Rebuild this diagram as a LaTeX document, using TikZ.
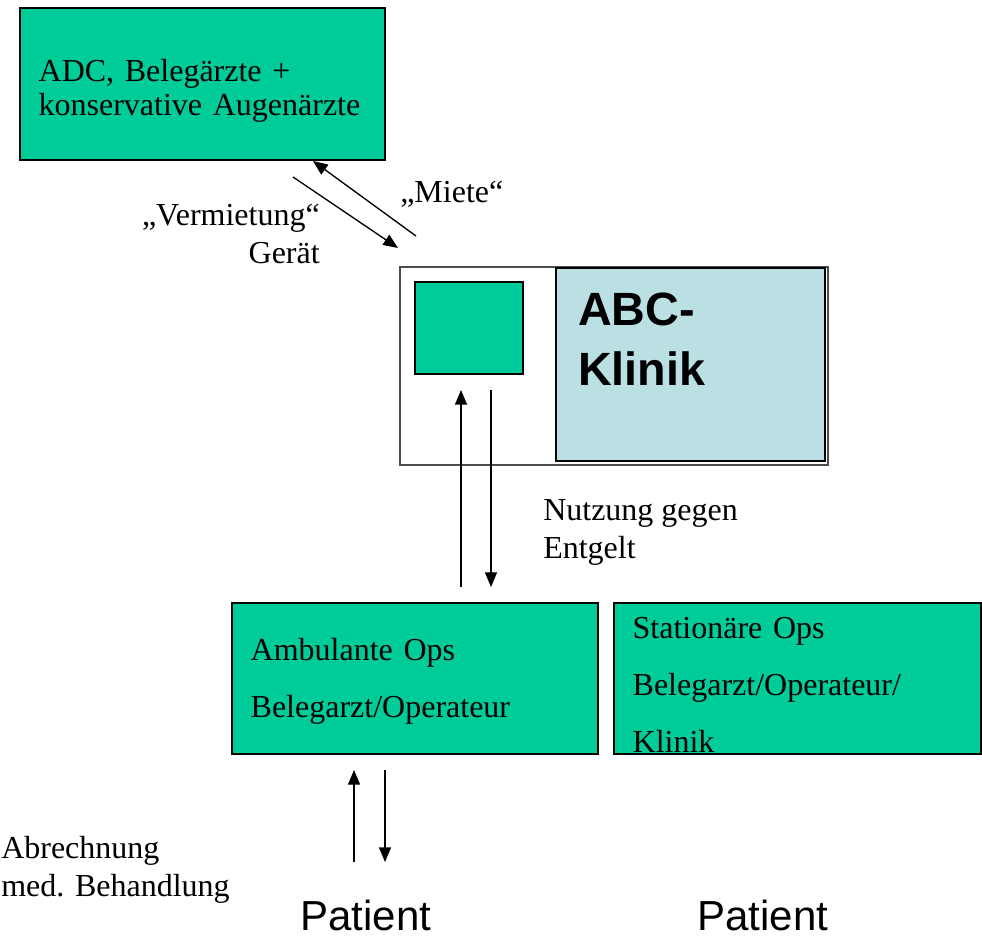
\documentclass[tikz,border=0pt]{standalone}
\usepackage{fontspec}
\setmainfont{Liberation Serif}
\setsansfont{Liberation Sans}
\usepackage{xcolor}
\usepackage{tikz}
\usetikzlibrary{arrows.meta, positioning}
\definecolor{boxgreen}{RGB}{0,204,153}
\definecolor{klinikblue}{RGB}{187,224,227}

\begin{document}
\begin{tikzpicture}[
  x=0.75pt, y=-0.75pt,
  greenbox/.style={draw=black, fill=boxgreen, line width=0.9pt, rectangle, align=left, inner xsep=14pt, inner ysep=0pt},
  lbl/.style={inner sep=0pt, font=\fontsize{24}{28.5}\selectfont},
  arr/.style={-{Triangle[length=11pt, width=9pt]}, line width=1pt}
]
\useasboundingbox (0,0) rectangle (982,937);

% Geraetegeber oben
\node[greenbox, minimum width=273.75pt, minimum height=114pt, text width=245.75pt,
  font=\fontsize{24}{26}\selectfont] (adc) at (202.5,84) {\rule{0pt}{27pt}ADC, Belegärzte +\\konservative Augenärzte};

% Klinik mit Geraet
\node[draw=gray!60!black, fill=white, line width=0.8pt, minimum width=321pt, minimum height=148.5pt] (klinik) at (614,366) {};
\node[draw, fill=boxgreen, line width=0.8pt, minimum width=81pt, minimum height=69pt] (geraet) at (469,328) {};
\node[draw, fill=klinikblue, line width=1.5pt, minimum width=201.75pt, minimum height=144.75pt] (abc) at (690.5,364.5) {};
\node[anchor=north west, inner sep=0pt, align=left, font=\sffamily\bfseries\fontsize{35}{45}\selectfont] (abclbl) at (578,293) {ABC-\\Klinik};

% OPs
\node[greenbox, minimum width=274.5pt, minimum height=113.25pt, text width=246.5pt,
  font=\fontsize{24}{43}\selectfont] (amb) at (415,678.5) {\rule{0pt}{21pt}Ambulante Ops\\Belegarzt/Operateur};
\node[greenbox, minimum width=275.25pt, minimum height=113.25pt, text width=247.25pt,
  font=\fontsize{24}{43}\selectfont] (stat) at (797.5,678.5) {\rule{0pt}{25.5pt}Stationäre Ops\\Belegarzt/Operateur/\\Klinik};

% Patienten
\node[anchor=base, inner sep=0pt, font=\sffamily\fontsize{31.5}{36}\selectfont] (pat1) at (366,930) {Patient};
\node[anchor=base, inner sep=0pt, font=\sffamily\fontsize{31.5}{36}\selectfont] (pat2) at (763,930) {Patient};

% Beschriftungen
\node[lbl, anchor=north east, align=right] (vermlbl) at (320,204) {„Vermietung“\\Gerät};
\node[lbl, anchor=base west] (mietelbl) at (400,203) {„Miete“};
\node[lbl, anchor=north west, align=left] (nutzlbl) at (543,499) {Nutzung gegen\\Entgelt};
\node[lbl, anchor=north west, align=left] (abrlbl) at (1,836) {Abrechnung\\med. Behandlung};

% Pfeile
\coordinate (vermA) at (293,177);
\coordinate (vermB) at (398,248);
\coordinate (mieteA) at (416,236);
\coordinate (mieteB) at (313,161);
\coordinate (nutzA) at (461,587);
\coordinate (nutzB) at (461,390);
\coordinate (entgA) at (491,390);
\coordinate (entgB) at (491,587);
\coordinate (abrA) at (354,862);
\coordinate (abrB) at (354,770);
\coordinate (behA) at (385,770);
\coordinate (behB) at (385,862);

\draw[arr] (vermA) -- (vermB);
\draw[arr] (mieteA) -- (mieteB);
\draw[arr] (nutzA) -- (nutzB);
\draw[arr] (entgA) -- (entgB);
\draw[arr] (abrA) -- (abrB);
\draw[arr] (behA) -- (behB);
\end{tikzpicture}
\end{document}
